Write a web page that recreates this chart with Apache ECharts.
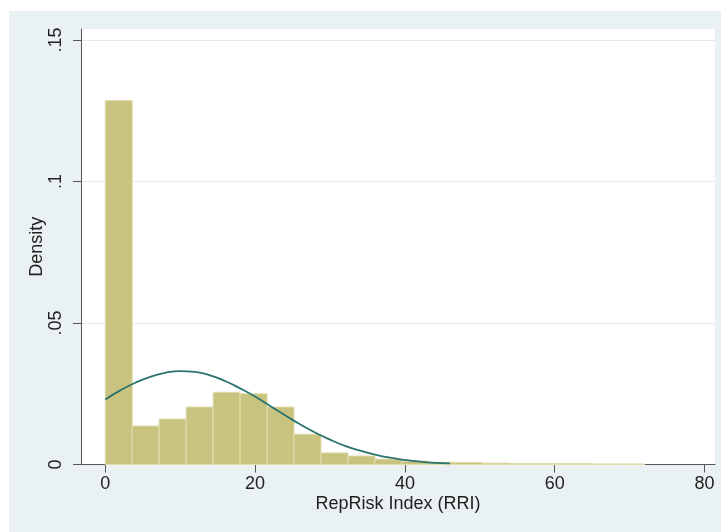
<!DOCTYPE html>
<html>
<head>
<meta charset="utf-8">
<script src="https://cdn.jsdelivr.net/npm/echarts@6/dist/echarts.min.js"></script>
<style>
html,body{margin:0;padding:0;background:#fff;}
#chart{width:721px;height:532px;}
</style>
</head>
<body>
<div id="chart"></div>
<script>
// Histogram bins (RepRisk Index), bin width 3.6
const binEdges = [0,3.6,7.2,10.8,14.4,18,21.6,25.2,28.8,32.4,36,39.6,43.2,46.8,50.4,54,57.6,61.2,64.8,68.4,72];
const density = [0.1286,0.0136,0.0161,0.0203,0.0255,0.0250,0.0203,0.0107,0.0041,0.0030,0.0019,0.0012,0.0008,0.0007,0.0005,0.0004,0.0004,0.0004,0.0002,0.0002];
// Normal density overlay
const curveX = [0,2,4,6,8,10,12,14,16,18,20,22,24,26,28,30,32,34,36,38,40,42,44,46];
const curveY = [0.0230,0.0262,0.0289,0.0310,0.0324,0.0330,0.0327,0.0315,0.0295,0.0269,0.0240,0.0207,0.0174,0.0142,0.0113,0.0088,0.0066,0.0049,0.0035,0.0024,0.0016,0.0010,0.0006,0.0004];
const xTicks = [0,20,40,60,80];
const yTicks = [0,0.05,0.1,0.15];
const yTickLabels = ['0','.05','.1','.15'];

const barData = density.map((d,i)=>[binEdges[i], binEdges[i+1], d]);
const curveData = curveX.map((x,i)=>[x, curveY[i]]);

const chart = echarts.init(document.getElementById('chart'), null, {renderer:'canvas'});
const font = '"Liberation Sans", Arial, Helvetica, sans-serif';
const option = {
  backgroundColor: '#e9f1f3',
  animation: false,
  graphic: [
    {type:'rect', left:0, top:0, shape:{width:721, height:11}, style:{fill:'#fff'}, silent:true},
    {type:'rect', left:0, top:0, shape:{width:9, height:532}, style:{fill:'#fff'}, silent:true}
  ],
  grid: {left:81, right:6, top:29, bottom:67.5, show:true, backgroundColor:'#fff', borderWidth:0},
  xAxis: {
    type:'value', min:-3.24, max:81.4,
    name:'RepRisk Index (RRI)', nameLocation:'middle', nameGap:31, nameMoveOverlap:false,
    nameTextStyle:{fontFamily:font, fontSize:18, color:'#222'},
    axisLine:{show:true, onZero:false, lineStyle:{color:'#555', width:1}},
    axisTick:{show:true, length:8, customValues:xTicks, lineStyle:{color:'#555'}},
    axisLabel:{customValues:xTicks, margin:11, fontFamily:font, fontSize:18, color:'#222'},
    splitLine:{show:false}
  },
  yAxis: {
    type:'value', min:0, max:0.1539, interval:0.05,
    name:'Density', nameLocation:'middle', nameGap:35, nameRotate:90, nameMoveOverlap:false,
    nameTextStyle:{fontFamily:font, fontSize:18, color:'#222'},
    axisLine:{show:true, onZero:false, lineStyle:{color:'#555', width:1}},
    axisTick:{show:true, length:8, customValues:yTicks, lineStyle:{color:'#555'}},
    axisLabel:{customValues:yTicks, rotate:90, margin:16, fontFamily:font, fontSize:18, color:'#222',
      formatter:(v)=>{const i=yTicks.findIndex(t=>Math.abs(t-v)<1e-9); return i>=0?yTickLabels[i]:'';}},
    splitLine:{show:true, lineStyle:{color:'#e3ecef', width:1}}
  },
  series: [
    {
      type:'custom', z:2,
      data: barData,
      renderItem: (params, api)=>{
        const p0 = api.coord([api.value(0), api.value(2)]);
        const p1 = api.coord([api.value(1), 0]);
        return {type:'rect',
          shape:{x:p0[0], y:p0[1], width:p1[0]-p0[0], height:p1[1]-p0[1]},
          style:{fill:'#c9c380', stroke:'#e0dcae', lineWidth:1}};
      }
    },
    {
      type:'line', z:3, data:curveData, smooth:true, showSymbol:false, symbol:'none',
      lineStyle:{color:'#2a736e', width:1.8}
    }
  ]
};
chart.setOption(option);
</script>
</body>
</html>
